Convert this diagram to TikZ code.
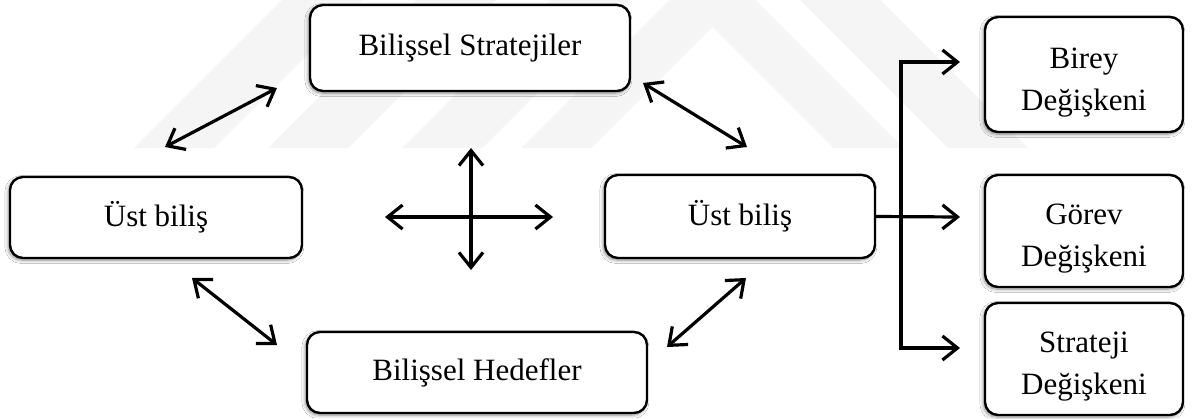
\documentclass[tikz,border=0pt]{standalone}
\usepackage{fontspec}
\setmainfont{Liberation Serif}
\usetikzlibrary{arrows.meta,shadows.blur}

\newcommand{\toppad}{\rule{0pt}{36pt}}

\tikzset{
  box/.style={draw=black, line width=2.4pt, rounded corners=13pt, fill=white,
    inner sep=0pt, align=center, font=\fontsize{31}{42}\selectfont,
    blur shadow={shadow xshift=-1.6pt, shadow yshift=-2pt,
      shadow blur radius=3.5pt, shadow blur steps=8, shadow opacity=45}},
  link/.style={line width=3.2pt, black},
  dbl/.style={link, {Straight Barb[length=15pt,width=24pt]}-{Straight Barb[length=15pt,width=24pt]}},
  one/.style={link, -{Straight Barb[length=15pt,width=24pt]}},
  wmark/.style={fill=black!4, draw=none}
}

\begin{document}
\begin{tikzpicture}[x=1pt,y=-1pt]
  \useasboundingbox (0,0) rectangle (1192,418);
  \fill[white] (0,0) rectangle (1192,418);

  % faint background stripes and chevron
  \foreach \b in {134,268,402}
    \fill[wmark] (\b,148) -- (\b+80,148) -- (\b+228,0) -- (\b+148,0) -- cycle;
  \fill[wmark] (521,148) -- (712,-43) -- (903,148) -- (833,148) -- (712,27) -- (591,148) -- cycle;
  \fill[wmark] (800,0) -- (880,0) -- (1028,148) -- (948,148) -- cycle;

  % boxes
  \node[box, minimum width=320pt, minimum height=86pt]  (strat) at (470,48)    {Bilişsel Stratejiler};
  \node[box, minimum width=292pt, minimum height=81pt]  (ustL)  at (156,217.5) {Üst biliş};
  \node[box, minimum width=270pt, minimum height=83pt]  (ustR)  at (740,216.5) {Üst biliş};
  \node[box, minimum width=340pt, minimum height=81pt]  (hedef) at (477,372.5) {Bilişsel Hedefler};
  \node[box, minimum width=198pt, minimum height=115pt] (birey) at (1084,74.5) {\toppad Birey\\Değişkeni};
  \node[box, minimum width=198pt, minimum height=112pt] (gorev) at (1084,231)  {\toppad Görev\\Değişkeni};
  \node[box, minimum width=198pt, minimum height=112pt] (strv)  at (1084,359)  {\toppad Strateji\\Değişkeni};

  % end points of the free-standing arrows
  \coordinate (a1s) at (165,147); \coordinate (a1e) at (277,88);
  \coordinate (a2s) at (643,83);  \coordinate (a2e) at (747,147);
  \coordinate (a3s) at (192,278); \coordinate (a3e) at (277,345);
  \coordinate (a4s) at (746,278); \coordinate (a4e) at (667,347);
  \coordinate (cxl) at (385,217); \coordinate (cxr) at (553,217);
  \coordinate (cyt) at (471,148); \coordinate (cyb) at (471,270);

  \draw[dbl] (a1s) -- (a1e);
  \draw[dbl] (a2s) -- (a2e);
  \draw[dbl] (a3s) -- (a3e);
  \draw[dbl] (a4s) -- (a4e);
  \draw[dbl] (cxl) -- (cxr);
  \draw[dbl] (cyt) -- (cyb);

  % branching connector to the three variables
  \coordinate (trunk) at (901,217);
  \coordinate (pB) at (960,62);
  \coordinate (pG) at (960,217);
  \coordinate (pS) at (960,348);
  \draw[one] (ustR.east) -- (pG);
  \draw[one] (trunk) |- (pB);
  \draw[one] (trunk) |- (pS);
\end{tikzpicture}
\end{document}
